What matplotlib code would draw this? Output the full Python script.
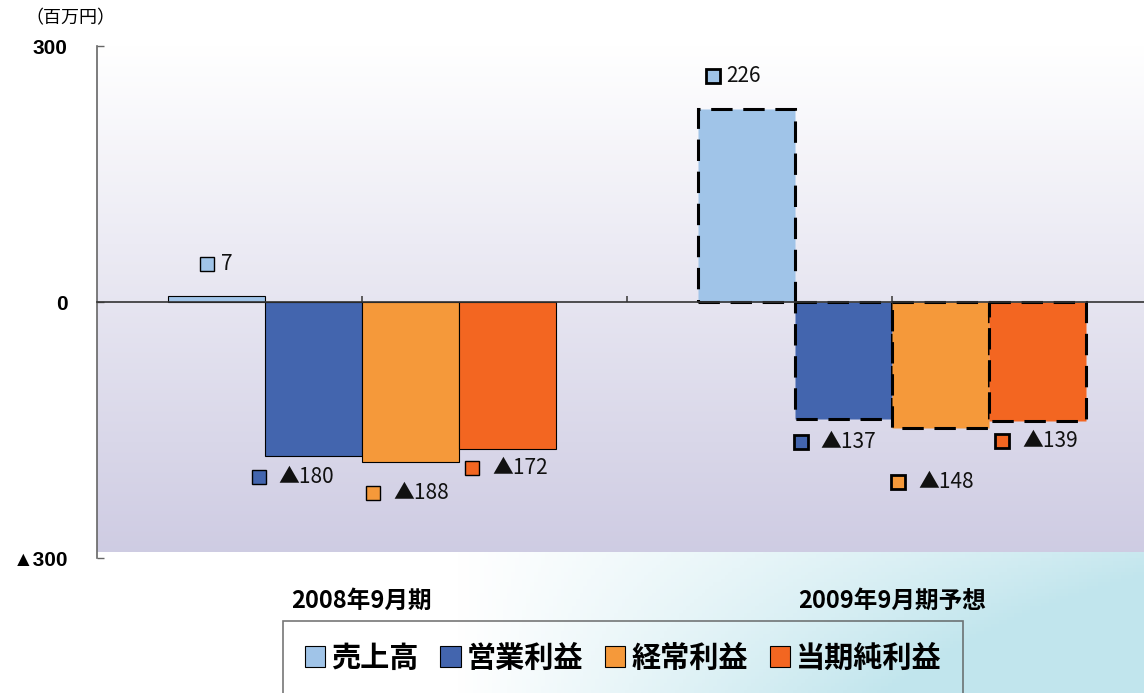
#!/usr/bin/env python3
import numpy as np
import matplotlib
matplotlib.use("Agg")
import matplotlib.pyplot as plt
from matplotlib.transforms import ScaledTranslation, blended_transform_factory

plt.rcParams['font.family'] = ['Noto Sans CJK JP', 'DejaVu Sans']

# データ（百万円）
periods = ['2008年9月期', '2009年9月期予想']
series = ['売上高', '営業利益', '経常利益', '当期純利益']
values_2008 = [7, -180, -188, -172]
values_2009 = [226, -137, -148, -139]
value_labels_2008 = ['7', '▲180', '▲188', '▲172']
value_labels_2009 = ['226', '▲137', '▲148', '▲139']
yticks = [300, 0, -300]
ytick_labels = ['300', '0', '▲300']

colors = ['#a0c4e8', '#4365ae', '#f5993a', '#f36621']

# ラベル位置のずらし（ピクセル、マーカー位置）
label_offsets_2008 = [(-10, 32), (-55, -21), (-37, -31), (-35, -19)]
label_offsets_2009 = [(-34, 33), (-43, -23), (-42, -54), (-35, -20)]

W, H = 1144, 693
fig = plt.figure(figsize=(W / 100, H / 100), dpi=100)

# 背景（右下の水色グラデーション）
bg = fig.add_axes([0, 0, 1, 1], zorder=-10)
yy, xx = np.mgrid[0:1:200j, 0:1:300j]   # yy: 0 = 上端
t = np.clip((xx - 0.4) / 0.6, 0, 1) * np.clip((yy - 0.55) / 0.45, 0, 1)
t = np.clip(t * 1.6, 0, 1)
img = np.ones((200, 300, 3))
cyan = np.array([0.76, 0.90, 0.93])
img = img * (1 - t[..., None]) + cyan * t[..., None]
bg.imshow(img, extent=[0, 1, 0, 1], aspect='auto', origin='upper')
bg.axis('off')

ax = fig.add_axes([97 / W, 1 - 558 / H, 1060 / W, 512 / H])
ax.set_xlim(-0.5, 1.5)
ax.set_ylim(-300, 300)
ax.patch.set_alpha(0)

# プロットエリアのグラデーション
grad = np.linspace(0, 1, 256)[:, None]
top = np.array([1.0, 1.0, 1.0])
bottom = np.array([0.81, 0.80, 0.89])
gimg = top * (1 - grad[..., None]) + bottom * grad[..., None]
gimg = np.repeat(gimg, 2, axis=1)
ax.imshow(gimg, extent=[-0.5, 1.5, -293, 300], aspect='auto', origin='upper', zorder=0)

width = 0.183
x = np.arange(len(periods))
offset_tf = lambda dx, dy: ax.transData + ScaledTranslation(dx / 100, dy / 100, fig.dpi_scale_trans)

for j, name in enumerate(series):
    xpos = x + (j - 1.5) * width
    # 2008年9月期（実績）
    ax.bar(xpos[0], values_2008[j], width, color=colors[j], edgecolor='black',
           linewidth=0.8, zorder=2, label=name)
    # 2009年9月期予想（破線）
    ax.bar(xpos[1], values_2009[j], width, color=colors[j], edgecolor='black',
           linewidth=2.2, linestyle=(0, (7, 3.5)), zorder=2)

    for k, (vals, labs, offs) in enumerate([(values_2008, value_labels_2008, label_offsets_2008),
                                              (values_2009, value_labels_2009, label_offsets_2009)]):
        dx, dy = offs[j]
        ax.plot([xpos[k]], [vals[j]], marker='s', markersize=10, markerfacecolor=colors[j],
                markeredgecolor='black', markeredgewidth=1 if k == 0 else 2,
                transform=offset_tf(dx, dy), zorder=4, clip_on=False)
        txt_dx = dx + (14 if j == 0 else 20)
        ax.text(xpos[k], vals[j], labs[j], transform=offset_tf(txt_dx, dy),
                ha='left', va='center', fontsize=15, color='#111111', zorder=4)

# 軸
for s in ['top', 'right']:
    ax.spines[s].set_visible(False)
ax.spines['left'].set_color('#666666')
ax.spines['left'].set_linewidth(1.2)
ax.spines['bottom'].set_position(('data', 0))
ax.spines['bottom'].set_color('#333333')
ax.spines['bottom'].set_linewidth(1.2)
ax.spines['bottom'].set_zorder(5)

ax.set_xticks([0, 0.5, 1])
ax.tick_params(axis='x', direction='in', length=4.5, width=1.2, colors='#444444', labelbottom=False)
ax.set_yticks(yticks)
ax.set_yticklabels(ytick_labels, fontweight='bold', fontsize=15,
                   family=['Liberation Sans', 'Noto Sans CJK JP'])
ax.tick_params(axis='y', direction='in', length=5, width=1, colors='#666666', pad=21, labelcolor='black')

ax.text(-0.025, 1.055, '（百万円）', transform=ax.transAxes, fontsize=13, ha='center', va='center')

trans = blended_transform_factory(ax.transData, ax.transAxes)
for i, p in enumerate(periods):
    ax.text(x[i], -0.084, p, transform=trans, ha='center', va='center',
            fontsize=17, fontweight='bold')

leg = fig.legend(loc='upper left', bbox_to_anchor=(283 / W, 1 - 621 / H), ncol=4,
                 frameon=True, fancybox=False, edgecolor='#555555', borderaxespad=0,
                 handlelength=0.7, handleheight=0.7, handletextpad=0.2, columnspacing=0.75,
                 borderpad=0.75, prop={'weight': 'bold', 'size': 21})
leg.get_frame().set_facecolor('none')
leg.get_frame().set_linewidth(1.2)

fig.savefig('out.png', dpi=100)
